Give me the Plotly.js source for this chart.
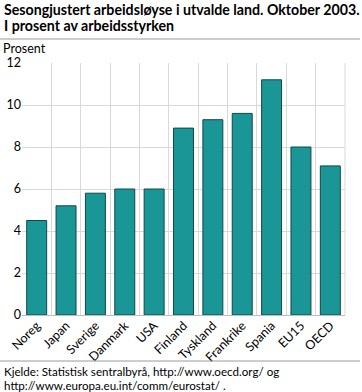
<!DOCTYPE html>
<html><head><meta charset="utf-8">
<script src="https://cdn.plot.ly/plotly-3.0.1.min.js"></script>
<style>body{margin:0;padding:0;background:#fff}#c{width:362px;height:392px}</style>
</head><body><div id="c"></div>
<script>
const categories = ["Noreg","Japan","Sverige","Danmark","USA","Finland","Tyskland","Frankrike","Spania","EU15","OECD"];
const values = [4.5, 5.2, 5.8, 6.0, 6.0, 8.9, 9.3, 9.6, 11.2, 8.0, 7.1];
const yTicks = [0, 2, 4, 6, 8, 10, 12];

const W = 362, H = 392, L = 22, R = 17, T = 63, B = 77;
const pw = W - L - R, ph = H - T - B;
const px = x => (x - L) / pw;
const py = y => (H - B - y) / ph;
const font = "Lato, Open Sans, sans-serif";

const trace = {
  type: "bar", x: categories, y: values,
  marker: {color: "#1a9696", line: {color: "#0d4a4a", width: 1}},
  hoverinfo: "none"
};
const txt = (text, x, y, size) => ({text, xref: "paper", yref: "paper", x: px(x), y: py(y),
  xanchor: "left", yanchor: "middle", showarrow: false, font: {size}});
const layout = {
  width: W, height: H,
  margin: {l: L, r: R, t: T, b: B, pad: 0},
  paper_bgcolor: "#fff", plot_bgcolor: "#fff",
  showlegend: false, bargap: 0.32,
  font: {family: font, size: 12, color: "#000"},
  xaxis: {type: "category", tickson: "boundaries", showgrid: true, gridcolor: "#d9d9d9", gridwidth: 1,
    ticks: "", tickangle: -45, tickfont: {size: 12.5}, showline: false, zeroline: false, fixedrange: true},
  yaxis: {range: [0, 12], tickvals: yTicks, ticktext: yTicks.map(String), showgrid: true, gridcolor: "#d9d9d9",
    gridwidth: 1, zeroline: true, zerolinecolor: "#bdbdbd", zerolinewidth: 1, ticks: "", showline: false,
    tickfont: {size: 12.5}, fixedrange: true},
  shapes: [
    {type: "line", xref: "paper", yref: "paper", x0: px(0), x1: px(360), y0: py(39), y1: py(39), line: {color: "#9a9a9a", width: 1}},
    {type: "line", xref: "paper", yref: "paper", x0: px(0), x1: px(360), y0: py(361), y1: py(361), line: {color: "#9a9a9a", width: 1}},
    {type: "line", xref: "paper", yref: "paper", x0: 1, x1: 1, y0: 0, y1: 1, line: {color: "#d9d9d9", width: 1}}
  ],
  annotations: [
    txt("<b>Sesongjustert arbeidsløyse i utvalde land. Oktober 2003.</b>", 2, 9, 14.2),
    txt("<b>I prosent av arbeidsstyrken</b>", 2, 25, 14.2),
    txt("Prosent", 1, 48, 12.5),
    txt("Kjelde: Statistisk sentralbyrå, http://www.oecd.org/ og", 2, 371, 11.6),
    txt("http://www.europa.eu.int/comm/eurostat/ .", 2, 385, 11.6)
  ]
};
Plotly.newPlot("c", [trace], layout, {displayModeBar: false, staticPlot: true});
</script></body></html>
